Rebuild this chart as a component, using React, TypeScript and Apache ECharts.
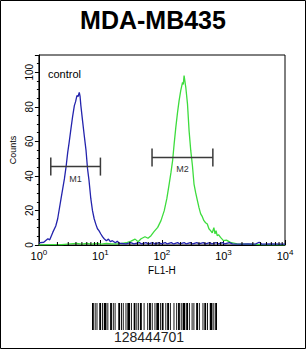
import React, { useEffect, useRef } from 'react';
import * as echarts from 'echarts';

const titleText = 'MDA-MB435';
const sampleLabel = 'control';
const xName = 'FL1-H';
const yName = 'Counts';
const barcodeText = '128444701';

const yTickLabels = [0, 20, 40, 60, 80, 100];
const xMinorTicks = [2, 3, 4, 5, 6, 7, 8, 9, 20, 30, 40, 50, 60, 70, 80, 90, 200, 300, 400, 500, 600, 700, 800, 900, 2000, 3000, 4000, 5000, 6000, 7000, 8000, 9000];

const blueCurve: [number, number][] = [
  [1.0, 1.2], [1.2, 1.6], [1.4, 3.6], [1.5, 3.0], [1.68, 7.3], [1.88, 11], [2.02, 15.2], [2.29, 26.8],
  [2.44, 32.6], [2.6, 38.4], [2.78, 46], [2.94, 53.6], [3.1, 59.3], [3.32, 67.4], [3.53, 74.3],
  [3.77, 80.7], [3.95, 83], [4.15, 86.5], [4.34, 86], [4.53, 88.4], [4.67, 86], [4.81, 80.7],
  [5.12, 72], [5.46, 63.3], [5.84, 54.6], [6.17, 44.2], [6.53, 37.3], [6.98, 26.8], [7.43, 19.9],
  [7.91, 15.2], [8.46, 11.8], [8.95, 9.4], [9.46, 8.3], [10.1, 6.5], [10.8, 4.8], [11.5, 3.6],
  [12.5, 2.5], [13.5, 3.4], [14.5, 1.9], [15.6, 2.5], [17.5, 1.3], [18.8, 2.2], [20.2, 1.0],
  [26, 0.7], [31, 1.4], [35, 0.6], [43, 1.4], [47, 0.6], [55, 1.4], [60, 0.6], [71, 1.4], [77, 0.6],
  [90, 1.4], [97, 0.6], [113, 1.4], [122, 0.6], [142, 1.4], [155, 0.6], [180, 1.4], [195, 0.6],
  [230, 1.4], [248, 0.6], [290, 1.4], [315, 0.6], [370, 1.4], [400, 0.6], [470, 1.4], [510, 0.6],
  [600, 1.4], [650, 0.6], [760, 1.4], [820, 0.6], [970, 1.4], [1050, 0.6], [1250, 1.4], [1400, 0.6],
  [1800, 0.5], [2500, 0.6], [3300, 0.5], [3800, 1.6], [4200, 0.5], [6000, 0.6], [10000, 0.5]
];

const greenCurve: [number, number][] = [
  [1.0, 0.1], [1.62, 0.2], [2.35, 0.2], [4.1, 1.0], [4.94, 0.5], [5.95, 1.0], [7.16, 0.5], [8.6, 1.0],
  [10.4, 0.5], [12.5, 1.0], [15.1, 0.7], [20.2, 0.7], [26.2, 1.3], [31.5, 2.2], [36.6, 3.4], [41, 1.9],
  [45.8, 3.6], [53, 4.8], [59.3, 3.9], [66.4, 5.4], [74.3, 7.7], [85.3, 10.2], [96.4, 14.1], [109, 19.9],
  [120, 26.8], [131, 35.3], [140, 41.9], [149, 48.8], [158, 58.7], [168, 68.1], [179, 76.6], [190, 83.6],
  [202, 89.4], [216, 94.2], [222, 92.9], [229, 98.1], [244, 91.3], [260, 81.7], [276, 66.2], [294, 54.6],
  [313, 45.9], [332, 35.3], [353, 30.3], [377, 25.7], [400, 21.6], [426, 18], [453, 16.4], [481, 14.1],
  [512, 12.9], [546, 12.2], [580, 9.4], [617, 8.3], [657, 7.1], [698, 10], [729, 6.5], [757, 8.3],
  [791, 5.4], [830, 6], [895, 4.4], [1000, 2.5], [1117, 2.8], [1297, 1.5], [1663, 0.6], [2257, 0.5],
  [3920, 0.2], [10000, 0.1]
];

const gateNames = ['M1', 'M2'];
const gateStart = [1.56, 69];
const gateEnd = [10, 672];
const gateLevel = [45.4, 50.7];

const barcodeWidths = [2, 1, 1, 1, 1, 2, 2, 1, 1, 1, 3, 1, 1, 2, 2, 1, 1, 1, 1, 3, 2, 1, 1, 1, 1, 2, 1, 1, 3, 1, 1, 2, 2, 1, 1, 1, 1, 1, 2, 2, 1, 3, 1, 1, 2, 1, 1, 2, 1, 1, 3, 1, 1, 1, 2, 2, 1, 1, 2, 1, 1, 3, 1, 2, 1, 1, 2, 1, 1, 1, 3, 1, 2, 1, 1, 2, 1, 1, 1, 2, 2, 1, 1, 3, 1, 1, 2, 1, 1, 2, 3, 1, 1, 1, 2];

const FONT = '"Liberation Sans", Arial, sans-serif';

export default function App() {
  const ref = useRef<HTMLDivElement>(null);
  useEffect(() => {
    if (!ref.current) return;
    const chart = echarts.init(ref.current, undefined, { renderer: 'svg' });

    const total = barcodeWidths.reduce((a, b) => a + b, 0);
    const bcLeft = 92, bcWidth = 125, bcTop = 303, bcHeight = 27;
    const scale = bcWidth / total;
    const bars: any[] = [];
    let cx = bcLeft;
    barcodeWidths.forEach((w, i) => {
      const ww = w * scale;
      if (i % 2 === 0) {
        bars.push({ type: 'rect', shape: { x: cx, y: bcTop, width: ww, height: bcHeight }, style: { fill: '#000' }, silent: true });
      }
      cx += ww;
    });

    const option: any = {
      animation: false,
      backgroundColor: '#fff',
      grid: { left: 37, right: 21, top: 55, bottom: 104, show: true, borderColor: '#000', borderWidth: 1, backgroundColor: 'transparent' },
      title: {
        text: titleText, left: 'center', top: 2,
        textStyle: { fontFamily: FONT, fontSize: 25, fontWeight: 'bold', color: '#000' }
      },
      xAxis: {
        type: 'log', logBase: 10, min: 1, max: 10000,
        name: xName, nameLocation: 'middle', nameGap: 19,
        nameTextStyle: { fontFamily: FONT, fontSize: 10, color: '#000' },
        axisLine: { show: true, lineStyle: { color: '#000', width: 1 } },
        axisTick: { show: true, inside: true, length: 5, lineStyle: { color: '#000' } },
        splitLine: { show: false },
        axisLabel: {
          margin: 3, color: '#000', fontFamily: FONT, fontSize: 11,
          formatter: (v: number) => '10{s|' + Math.round(Math.log10(v)) + '}',
          rich: { s: { fontSize: 8, fontFamily: FONT, color: '#000', padding: [0, 0, 7, 0] } }
        }
      },
      yAxis: {
        type: 'value', min: 0, max: 110, interval: 20,
        name: yName, nameLocation: 'middle', nameGap: 16, nameRotate: 90,
        nameTextStyle: { fontFamily: FONT, fontSize: 9, color: '#000' },
        axisLine: { show: true, lineStyle: { color: '#000', width: 1 } },
        axisTick: { show: true, inside: false, length: 4, lineStyle: { color: '#000' } },
        minorTick: { show: true, splitNumber: 4, length: 2, lineStyle: { color: '#000' } },
        splitLine: { show: false },
        axisLabel: {
          rotate: 90, margin: 4, color: '#000', fontFamily: FONT, fontSize: 10,
          formatter: (v: number) => (yTickLabels.indexOf(v) >= 0 ? String(v) : '')
        }
      },
      series: [
        {
          type: 'line', data: greenCurve, showSymbol: false, symbol: 'none',
          lineStyle: { color: '#3ddc3d', width: 1.3 }, z: 3
        },
        {
          type: 'line', data: blueCurve, showSymbol: false, symbol: 'none',
          lineStyle: { color: '#2424ad', width: 1.3 }, z: 4
        },
        {
          type: 'custom', silent: true, clip: false, z: 5,
          data: xMinorTicks.map((v) => [v, 0]),
          encode: { x: 0, y: 1 },
          renderItem: (params: any, api: any) => {
            const p = api.coord([api.value(0), 0]);
            return { type: 'line', shape: { x1: p[0], y1: p[1], x2: p[0], y2: p[1] - 3 }, style: { stroke: '#000', lineWidth: 1 } };
          }
        },
        {
          type: 'custom', silent: true, clip: false, z: 6,
          data: gateNames.map((n, i) => [gateStart[i], gateEnd[i], gateLevel[i], n]),
          encode: { x: [0, 1], y: 2 },
          renderItem: (params: any, api: any) => {
            const x0 = api.value(0), x1 = api.value(1), y = api.value(2);
            const name = gateNames[params.dataIndex];
            const a = api.coord([x0, y]);
            const b = api.coord([x1, y]);
            const m = api.coord([Math.sqrt(x0 * x1), y]);
            const st = { stroke: '#3a3a3a', lineWidth: 1.5 };
            return {
              type: 'group',
              children: [
                { type: 'line', shape: { x1: a[0], y1: a[1], x2: b[0], y2: b[1] }, style: st },
                { type: 'line', shape: { x1: a[0], y1: a[1] - 9, x2: a[0], y2: a[1] + 9 }, style: st },
                { type: 'line', shape: { x1: b[0], y1: b[1] - 9, x2: b[0], y2: b[1] + 9 }, style: st },
                { type: 'text', x: m[0], y: m[1] + 12, style: { text: name, fill: '#333', font: '9px ' + FONT, align: 'center', verticalAlign: 'middle' } }
              ]
            };
          }
        }
      ],
      graphic: [
        { type: 'rect', shape: { x: 0.5, y: 0.5, width: 305, height: 348 }, style: { fill: 'none', stroke: '#000', lineWidth: 1 }, silent: true, z: 10 },
        { type: 'text', x: 48, y: 74, style: { text: sampleLabel, fill: '#000', font: '11px ' + FONT, verticalAlign: 'middle' }, z: 10 },
        { type: 'group', children: bars },
        { type: 'text', x: 149, y: 337, style: { text: barcodeText, fill: '#222', font: '14px ' + FONT, align: 'center', verticalAlign: 'middle' } }
      ]
    };
    chart.setOption(option);
    return () => chart.dispose();
  }, []);
  return <div ref={ref} style={{ position: 'fixed', left: 0, top: 0, width: 306, height: 349 }} />;
}
